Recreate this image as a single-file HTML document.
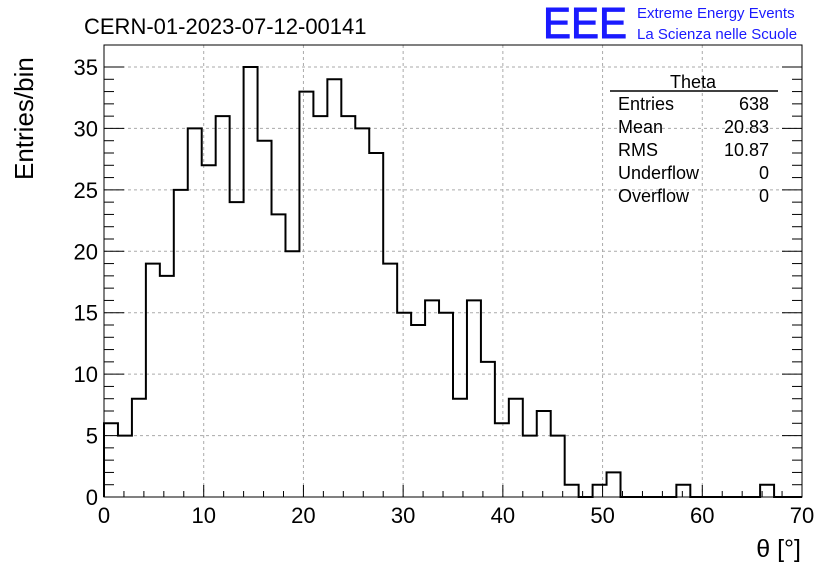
<!DOCTYPE html>
<html><head><meta charset="utf-8"><style>
body{margin:0;background:#fff;}
svg{display:block;font-family:"Liberation Sans",sans-serif;}
</style></head><body>
<svg id="c" width="836" height="572">
<rect x="0" y="0" width="836" height="572" fill="#fff"/>
<g id="grid"></g>
<g id="ticks"></g>
<path id="hist" fill="none" stroke="#000" stroke-width="2"/>
<rect x="104" y="45" width="698" height="452" fill="none" stroke="#000" stroke-width="1"/>
<text x="84" y="34" font-size="22">CERN-01-2023-07-12-00141</text>
<text x="543" y="38" font-size="44" fill="#1a1aff" stroke="#1a1aff" stroke-width="1" textLength="84" lengthAdjust="spacingAndGlyphs">EEE</text>
<text x="637" y="18" font-size="15" fill="#1a1aff">Extreme Energy Events</text>
<text x="637" y="39" font-size="15" fill="#1a1aff">La Scienza nelle Scuole</text>
<text transform="translate(33,180) rotate(-90)" font-size="26">Entries/bin</text>
<text x="801" y="557" font-size="25" text-anchor="end">θ [°]</text>
<g font-size="18">
<text x="693" y="88" text-anchor="middle">Theta</text>
<line x1="610" y1="91" x2="778" y2="91" stroke="#000" stroke-width="1.5"/>
<text x="618" y="110">Entries</text><text x="769" y="110" text-anchor="end">638</text>
<text x="618" y="133">Mean</text><text x="769" y="133" text-anchor="end">20.83</text>
<text x="618" y="156">RMS</text><text x="769" y="156" text-anchor="end">10.87</text>
<text x="618" y="179">Underflow</text><text x="769" y="179" text-anchor="end">0</text>
<text x="618" y="202">Overflow</text><text x="769" y="202" text-anchor="end">0</text>
</g>
</svg>
<script>
const binStart = 0, binWidth = 1.4;
const counts = [6,5,8,19,18,25,30,27,31,24,35,29,23,20,33,31,34,31,30,28,19,15,14,16,15,8,16,11,6,8,5,7,5,1,0,1,2,0,0,0,0,1,0,0,0,0,0,1,0,0];
const xTicks = [0,10,20,30,40,50,60,70];
const yTicks = [0,5,10,15,20,25,30,35];
const X0=104,X1=802,Y0=497,Y35=67;
const sx = v => X0 + (v-0)*(X1-X0)/70;
const sy = v => Y0 - v*(Y0-Y35)/35;
const NS="http://www.w3.org/2000/svg";
const svg=document.getElementById('c');
const grid=document.getElementById('grid'), tk=document.getElementById('ticks');
function mk(tag,attrs,parent){const e=document.createElementNS(NS,tag);for(const k in attrs)e.setAttribute(k,attrs[k]);parent.appendChild(e);return e;}
xTicks.forEach(v=>{
  const x=sx(v);
  if(v>0&&v<70){const g=mk('line',{x1:x,y1:45,x2:x,y2:497,stroke:'#aaa','stroke-dasharray':'3,3'},grid);
  
  }
  mk('line',{x1:x,y1:497,x2:x,y2:485,stroke:'#000'},tk);
  const t=mk('text',{x:x,y:523,'font-size':'22','text-anchor':'middle'},svg);t.textContent=v;
  
  
  if(v<70) for(let m=1;m<5;m++){const xm=sx(v+m*2);mk('line',{x1:xm,y1:497,x2:xm,y2:491,stroke:'#000'},tk);}
});
yTicks.forEach(v=>{
  const y=sy(v);
  if(v>0){const g=mk('line',{x1:104,y1:y,x2:802,y2:y,stroke:'#aaa','stroke-dasharray':'3,3'},grid);
  
  }
  mk('line',{x1:104,y1:y,x2:124,y2:y,stroke:'#000'},tk);
  mk('line',{x1:802,y1:y,x2:782,y2:y,stroke:'#000'},tk);
  const t=mk('text',{x:98,y:y+8,'font-size':'22','text-anchor':'end'},svg);t.textContent=v;
  
  
  for(let m=1;m<5&&v<35;m++){const ym=sy(v+m);mk('line',{x1:104,y1:ym,x2:114,y2:ym,stroke:'#000'},tk);mk('line',{x1:802,y1:ym,x2:792,y2:ym,stroke:'#000'},tk);}
});
let d='M'+sx(binStart)+','+sy(0);
counts.forEach((c,i)=>{const a=sx(binStart+i*binWidth),b=sx(binStart+(i+1)*binWidth);d+=' L'+a+','+sy(c)+' L'+b+','+sy(c);});
d+=' L'+sx(binStart+counts.length*binWidth)+','+sy(0);
document.getElementById('hist').setAttribute('d',d);
</script>
</body></html>
